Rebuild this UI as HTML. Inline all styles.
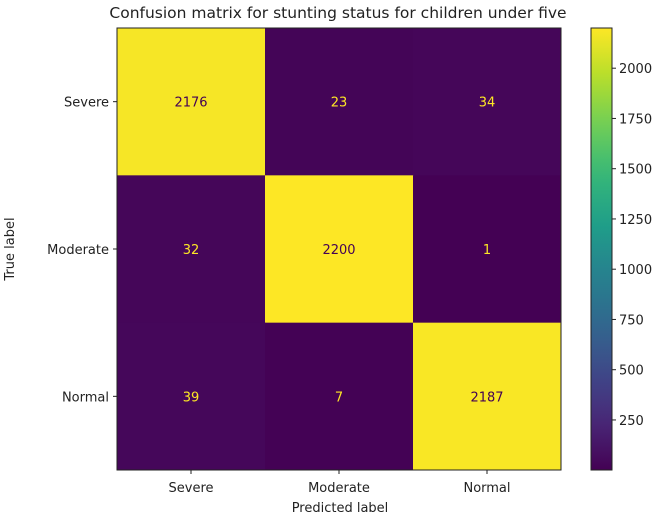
<!DOCTYPE html>
<html><head><meta charset="utf-8"><style>
body{margin:0;background:#fff;}
svg{display:block;font-family:"DejaVu Sans","Liberation Sans",sans-serif;}
</style></head><body>
<svg id="chart" width="669" height="522">
<defs><linearGradient id="vg" x1="0" y1="1" x2="0" y2="0"></linearGradient></defs>
<text x="338" y="18" text-anchor="middle" font-size="15.5" fill="#222">Confusion matrix for stunting status for children under five</text>
<g id="cells"></g>
<g id="cbar"></g>
<text x="340" y="512" text-anchor="middle" font-size="13" fill="#222">Predicted label</text>
<text transform="translate(14,249) rotate(-90)" text-anchor="middle" font-size="13" fill="#222">True label</text>
</svg>
<script>
const categories=["Severe","Moderate","Normal"];
const row0=[2176,23,34];
const row1=[32,2200,1];
const row2=[39,7,2187];
const cbTicks=[250,500,750,1000,1250,1500,1750,2000];
const matrix=[row0,row1,row2];
const V=[[68,1,84],[72,40,120],[62,73,137],[49,104,142],[38,130,142],[31,158,137],[53,183,121],[110,206,88],[181,222,43],[253,231,37]];
function vir(t){t=Math.max(0,Math.min(1,t));const p=t*(V.length-1),i=Math.min(Math.floor(p),V.length-2),f=p-i;
const c=V[i].map((v,k)=>Math.round(v+(V[i+1][k]-v)*f));return `rgb(${c.join(',')})`;}
const NS="http://www.w3.org/2000/svg";
function mk(tag,attrs,parent){const e=document.createElementNS(NS,tag);for(const k in attrs)e.setAttribute(k,attrs[k]);parent.appendChild(e);return e;}
const L=117,T=28,W=444,H=442,n=categories.length,cw=W/n,ch=H/n;
const all=matrix.flat(),vmin=Math.min(...all),vmax=Math.max(...all);
const norm=v=>(v-vmin)/(vmax-vmin);
const g=document.getElementById('cells');
matrix.forEach((row,r)=>row.forEach((v,c)=>{
 const rc=mk('rect',{x:L+c*cw,y:T+r*ch,width:cw+0.5,height:ch+0.5,fill:vir(norm(v))},g);
 
 
 const t=mk('text',{x:L+c*cw+cw/2,y:T+r*ch+ch/2+5,'text-anchor':'middle','font-size':13,fill:norm(v)>0.5?vir(0):vir(1)},g);
 t.textContent=v;
 
 
}));
mk('rect',{x:L,y:T,width:W,height:H,fill:'none',stroke:'#222','stroke-width':1},g);
categories.forEach((cat,i)=>{
 const x=L+i*cw+cw/2;
 mk('line',{x1:x,y1:T+H,x2:x,y2:T+H+4,stroke:'#222'},g);
 const t=mk('text',{x:x,y:T+H+22,'text-anchor':'middle','font-size':13,fill:'#222'},g);t.textContent=cat;
 
 
 const y=T+i*ch+ch/2;
 mk('line',{x1:L-4,y1:y,x2:L,y2:y,stroke:'#222'},g);
 const t2=mk('text',{x:L-8,y:y+5,'text-anchor':'end','font-size':13,fill:'#222'},g);t2.textContent=cat;
 
 
});
const grad=document.getElementById('vg');
for(let i=0;i<=20;i++)mk('stop',{offset:(i/20),'stop-color':vir(i/20)},grad);
const cb=document.getElementById('cbar'),CX=591,CW=21;
mk('rect',{x:CX,y:T,width:CW,height:H,fill:'url(#vg)',stroke:'#222','stroke-width':1},cb);
cbTicks.forEach(v=>{
 const y=T+H-norm(v)*H;
 mk('line',{x1:CX+CW,y1:y,x2:CX+CW+4,y2:y,stroke:'#222'},cb);
 const t=mk('text',{x:CX+CW+7,y:y+5,'font-size':13,fill:'#222'},cb);t.textContent=v;
 
 
});
</script>
</body></html>
